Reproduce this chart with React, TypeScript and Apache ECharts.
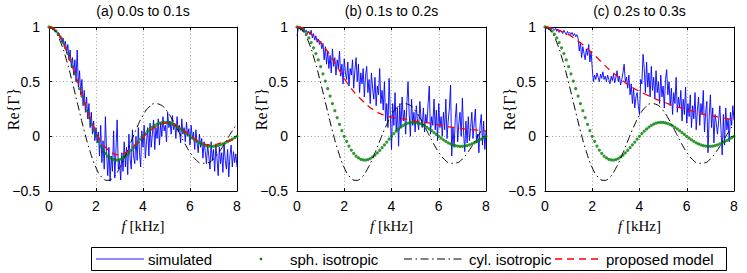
import React, { useEffect, useRef } from "react";
import * as echarts from "echarts";

// ---------- data ----------
const PANEL_TITLES = ["(a) 0.0s to 0.1s", "(b) 0.1s to 0.2s", "(c) 0.2s to 0.3s"];
const LEGEND_LABELS = ["simulated", "sph. isotropic", "cyl. isotropic", "proposed model"];
const Y_NAME = "Re{\u0393}";
const X_MIN = 0, X_MAX = 8, X_STEP = 2;
const Y_MIN = -0.5, Y_MAX = 1, Y_STEP = 0.5;

const SIM_STEP = 0.05; // kHz between simulated samples
const SIM_A = [
  1.00,
  0.99, 0.99, 0.98, 0.99, 0.96, 0.97, 0.94, 0.95, 0.91, 0.92,
  0.86, 0.90, 0.82, 0.87, 0.76, 0.84, 0.70, 0.79, 0.63, 0.72,
  0.56, 0.70, 0.50, 0.79, 0.45, 0.60, 0.38, 0.52, 0.28, 0.42,
  0.22, 0.36, 0.16, 0.30, 0.08, 0.22, 0.02, 0.14, -0.04, 0.08,
  -0.06, 0.04, -0.18, 0.10, -0.24, -0.04, -0.30, 0.18, -0.14, -0.36,
  -0.10, -0.41, -0.18, -0.32, 0.05, -0.38, -0.12, 0.15, -0.30, -0.22,
  -0.40, -0.15, -0.32, -0.05, -0.28, -0.10, -0.35, 0.02, -0.20, -0.30,
  0.06, -0.18, -0.25, 0.00, -0.22, 0.08, -0.15, -0.28, 0.05, -0.10,
  0.10, -0.20, -0.05, 0.08, -0.18, 0.12, -0.10, 0.02, 0.15, -0.12,
  0.08, -0.02, 0.16, -0.08, 0.12, 0.00, 0.18, 0.05, 0.10, -0.05,
  0.22, 0.08, 0.14, 0.02, 0.19, 0.06, 0.12, -0.02, 0.18, 0.04,
  0.10, -0.06, 0.16, 0.02, 0.08, -0.05, 0.13, 0.00, 0.07, -0.08,
  0.10, -0.02, 0.04, -0.12, 0.06, -0.06, -0.15, 0.02, -0.10, -0.02,
  -0.20, -0.05, -0.14, -0.25, -0.08, -0.18, -0.30, -0.05, -0.22, -0.12,
  -0.32, -0.08, -0.20, -0.36, -0.10, -0.25, -0.15, -0.33, -0.06, -0.22,
  -0.30, -0.12, -0.37, -0.18, -0.08, -0.28, -0.14, -0.24, -0.16, -0.28,
];
const SIM_B = [
  0.92,
  0.98, 1.00, 0.97, 0.99, 0.96, 0.99, 0.95, 0.97, 0.94, 0.96,
  0.93, 0.97, 0.90, 0.94, 0.88, 0.92, 0.86, 0.89, 0.84, 0.87,
  0.80, 0.85, 0.70, 0.82, 0.66, 0.78, 0.62, 0.74, 0.58, 0.80,
  0.64, 0.72, 0.56, 0.70, 0.62, 0.78, 0.55, 0.66, 0.48, 0.71,
  0.58, 0.52, 0.68, 0.46, 0.62, 0.56, 0.70, 0.44, 0.60, 0.72,
  0.50, 0.66, 0.40, 0.58, 0.48, 0.62, 0.36, 0.55, 0.64, 0.40,
  0.52, 0.30, 0.58, 0.44, 0.34, 0.54, 0.28, 0.46, 0.38, 0.62,
  0.30, 0.42, 0.24, 0.50, 0.14, 0.30, 0.08, 0.53, 0.20, -0.12,
  0.30, 0.10, 0.40, 0.05, 0.26, -0.09, 0.30, 0.08, 0.36, 0.14,
  0.24, 0.02, 0.30, 0.50, 0.20, 0.00, 0.34, 0.10, 0.22, 0.04,
  0.28, 0.14, 0.06, 0.32, 0.16, 0.08, 0.26, 0.04, 0.20, 0.12,
  0.30, 0.46, 0.02, 0.18, 0.10, 0.34, 0.06, 0.24, -0.04, 0.30,
  0.08, 0.18, 0.00, 0.22, 0.06, 0.34, -0.02, 0.14, 0.26, 0.47,
  -0.18, 0.08, -0.10, 0.16, 0.30, -0.05, 0.12, 0.22, 0.00, 0.35,
  0.04, -0.14, 0.14, -0.06, 0.18, -0.04, 0.08, 0.22, -0.02, 0.12,
  0.25, -0.06, 0.02, -0.15, 0.10, 0.20, -0.08, 0.14, -0.12, 0.05,
];
const SIM_C = [
  0.96,
  0.99, 1.00, 0.98, 0.99, 0.97, 1.00, 0.98, 0.97, 0.99, 0.96,
  0.98, 0.95, 0.97, 0.96, 0.94, 0.97, 0.95, 0.93, 0.96, 0.94,
  0.95, 0.93, 0.95, 0.92, 0.94, 0.91, 0.93, 0.90, 0.78, 0.86,
  0.72, 0.82, 0.76, 0.70, 0.80, 0.74, 0.84, 0.68, 0.78, 0.62,
  0.50, 0.56, 0.52, 0.58, 0.54, 0.50, 0.57, 0.53, 0.59, 0.52,
  0.55, 0.50, 0.56, 0.52, 0.48, 0.55, 0.51, 0.57, 0.49, 0.54,
  0.60, 0.50, 0.55, 0.47, 0.52, 0.58, 0.66, 0.50, 0.54, 0.44,
  0.56, 0.38, 0.48, 0.30, 0.44, 0.26, 0.36, 0.40, 0.28, 0.20,
  0.52, 0.48, 0.75, 0.62, 0.40, 0.68, 0.45, 0.58, 0.36, 0.64,
  0.42, 0.54, 0.34, 0.60, 0.40, 0.50, 0.30, 0.56, 0.36, 0.46,
  0.26, 0.52, 0.61, 0.38, 0.50, 0.28, 0.44, 0.20, 0.40, 0.30,
  0.54, 0.22, 0.36, 0.26, 0.42, 0.14, 0.34, 0.20, 0.45, 0.12,
  0.30, 0.18, 0.38, 0.08, 0.28, 0.16, 0.40, 0.06, 0.24, 0.36,
  0.10, 0.30, 0.20, 0.42, 0.04, 0.22, 0.32, -0.15, 0.18, 0.38,
  0.08, 0.26, -0.06, 0.20, 0.12, 0.02, 0.14, 0.28, 0.06, -0.17,
  0.20, -0.08, 0.26, 0.06, 0.16, -0.05, 0.22, 0.10, 0.28, 0.15,
];

const SPH_STEP = 0.1;
const SPH = [
  1, 0.996, 0.984, 0.963, 0.935, 0.900, 0.858, 0.810, 0.757, 0.699, 0.637,
  0.572, 0.505, 0.436, 0.368, 0.300, 0.234, 0.170, 0.109, 0.052, 0,
  -0.047, -0.089, -0.126, -0.156, -0.180, -0.198, -0.210, -0.216, -0.217, -0.212,
  -0.203, -0.189, -0.172, -0.152, -0.129, -0.104, -0.078, -0.052, -0.026, 0,
  0.024, 0.047, 0.067, 0.085, 0.100, 0.112, 0.121, 0.126, 0.128, 0.127,
  0.123, 0.116, 0.107, 0.095, 0.082, 0.067, 0.051, 0.034, 0.017, 0,
  -0.016, -0.032, -0.046, -0.059, -0.069, -0.078, -0.085, -0.089, -0.091, -0.091,
  -0.089, -0.084, -0.078, -0.070, -0.060, -0.049, -0.038, -0.025, -0.013, 0,
];

const CURVE_STEP = 0.25;
const CYL = [
  1, 0.963, 0.857, 0.693, 0.489, 0.267, 0.050, -0.140, -0.287, -0.375, -0.403,
  -0.373, -0.291, -0.176, -0.044, 0.085, 0.192, 0.267, 0.299, 0.288, 0.237,
  0.152, 0.050, -0.054, -0.146, -0.213, -0.246, -0.243, -0.207, -0.140, -0.056,
  0.033, 0.115,
];
const MODEL_A = [
  1.0, 0.975, 0.90, 0.78, 0.64, 0.48, 0.32, 0.17, 0.04, -0.06, -0.12,
  -0.16, -0.17, -0.15, -0.11, -0.06, -0.01, 0.04, 0.08, 0.11, 0.12,
  0.115, 0.09, 0.05, 0.01, -0.03, -0.06, -0.075, -0.075, -0.065, -0.05,
  -0.035, -0.02,
];
const MODEL_B = [
  1.0, 0.99, 0.95, 0.91, 0.86, 0.79, 0.71, 0.62, 0.53, 0.45, 0.385,
  0.33, 0.28, 0.24, 0.21, 0.19, 0.175, 0.165, 0.16, 0.15, 0.14,
  0.135, 0.125, 0.115, 0.105, 0.095, 0.085, 0.08, 0.07, 0.065, 0.06,
  0.055, 0.05,
];
const MODEL_C = [
  1.0, 0.99, 0.975, 0.955, 0.93, 0.895, 0.855, 0.81, 0.76, 0.71, 0.655,
  0.605, 0.56, 0.515, 0.475, 0.44, 0.41, 0.385, 0.36, 0.335, 0.315,
  0.295, 0.275, 0.26, 0.245, 0.23, 0.215, 0.20, 0.19, 0.18, 0.17,
  0.16, 0.155,
];

const SIMS = [SIM_A, SIM_B, SIM_C];
const MODELS = [MODEL_A, MODEL_B, MODEL_C];

// ---------- layout / style ----------
const GRID_LEFT = [49, 297, 545];
const GRID_W = [188, 189, 189];
const GRID_TOP = 27;
const GRID_H = 164;
const Y_NAME_OFFSET = 36; // px left of axis (centre of rotated name)
const SANS = "'Liberation Sans', Arial, sans-serif";
const SERIF = "'Liberation Serif', 'DejaVu Serif', serif";
const FS = 14;
const LEGEND_FS = 15;
const BLUE = "#0000ff";
const GREEN = "#008000";
const RED = "#ff0000";
const DASH_DOT = [8, 3.5, 1.5, 3.5];
const DASHED = [7, 5];

const toPairs = (arr: number[], step: number) => arr.map((v, k) => [+(k * step).toFixed(3), v]);
const fmtY = (v: number) => (v < 0 ? "\u2212" + String(-v) : String(v));

function buildOption() {
  const grid: any[] = [];
  const xAxis: any[] = [];
  const yAxis: any[] = [];
  const series: any[] = [];
  const graphic: any[] = [];

  for (let i = 0; i < 3; i++) {
    grid.push({
      left: GRID_LEFT[i], top: GRID_TOP, width: GRID_W[i], height: GRID_H,
      containLabel: false, outerBoundsMode: "none",
    });
    const axisLine = { show: true, onZero: false, lineStyle: { color: "#000", width: 1 } };
    const axisTick = { show: true, inside: true, length: 3, lineStyle: { color: "#000", width: 1 } };
    const split = { show: true, lineStyle: { color: "#a0a0a0", width: 1, type: [1, 2.5] } };
    xAxis.push({
      type: "value", gridIndex: i, min: X_MIN, max: X_MAX, interval: X_STEP, position: "bottom",
      axisLine, axisTick, splitLine: split,
      axisLabel: { color: "#000", fontSize: FS, fontFamily: SANS, margin: 8 },
      name: "{i|f}{n| [kHz]}", nameLocation: "middle", nameGap: 27, nameMoveOverlap: false,
      nameTextStyle: {
        rich: {
          i: { fontStyle: "italic", fontFamily: SERIF, fontSize: 15, color: "#000" },
          n: { fontFamily: SERIF, fontSize: 15, color: "#000" },
        },
      },
    });
    xAxis.push({
      type: "value", gridIndex: i, min: X_MIN, max: X_MAX, interval: X_STEP, position: "top",
      axisLine, axisTick, splitLine: { show: false }, axisLabel: { show: false },
    });
    yAxis.push({
      type: "value", gridIndex: i, min: Y_MIN, max: Y_MAX, interval: Y_STEP, position: "left",
      axisLine, axisTick, splitLine: split,
      axisLabel: { color: "#000", fontSize: FS, fontFamily: SANS, margin: 9, formatter: fmtY },
    });
    yAxis.push({
      type: "value", gridIndex: i, min: Y_MIN, max: Y_MAX, interval: Y_STEP, position: "right",
      axisLine, axisTick, splitLine: { show: false }, axisLabel: { show: false },
    });

    const xi = 2 * i, yi = 2 * i;
    series.push({
      name: LEGEND_LABELS[0], type: "line", xAxisIndex: xi, yAxisIndex: yi,
      data: toPairs(SIMS[i], SIM_STEP), symbol: "none", showSymbol: false,
      lineStyle: { color: BLUE, width: 0.9 }, z: 2,
    });
    series.push({
      name: LEGEND_LABELS[1], type: "scatter", xAxisIndex: xi, yAxisIndex: yi,
      data: toPairs(SPH, SPH_STEP), symbol: "circle", symbolSize: 3.2,
      itemStyle: { color: GREEN }, z: 3,
    });
    series.push({
      name: LEGEND_LABELS[2], type: "line", xAxisIndex: xi, yAxisIndex: yi,
      data: toPairs(CYL, CURVE_STEP), symbol: "none", showSymbol: false, smooth: true,
      lineStyle: { color: "#000", width: 1, type: DASH_DOT }, z: 4,
    });
    series.push({
      name: LEGEND_LABELS[3], type: "line", xAxisIndex: xi, yAxisIndex: yi,
      data: toPairs(MODELS[i], CURVE_STEP), symbol: "none", showSymbol: false, smooth: true,
      lineStyle: { color: RED, width: 1.3, type: DASHED }, z: 5,
    });

    graphic.push({
      type: "text", x: GRID_LEFT[i] + GRID_W[i] / 2, y: 11,
      style: {
        text: PANEL_TITLES[i], fill: "#000", fontSize: FS, fontFamily: SANS,
        align: "center", verticalAlign: "middle", textAlign: "center", textVerticalAlign: "middle",
      },
    });
    graphic.push({
      type: "text", x: GRID_LEFT[i] - Y_NAME_OFFSET, y: GRID_TOP + GRID_H / 2, rotation: Math.PI / 2,
      style: {
        text: Y_NAME, fill: "#000", fontSize: 16, fontFamily: SERIF,
        align: "center", verticalAlign: "middle", textAlign: "center", textVerticalAlign: "middle",
      },
    });
  }

  // legend box
  const LY = 259;
  const textStyle = (t: string) => ({
    text: t, fill: "#000", fontSize: LEGEND_FS, fontFamily: SANS,
    align: "left", verticalAlign: "middle", textAlign: "left", textVerticalAlign: "middle",
  });
  graphic.push({
    type: "rect", shape: { x: 91.5, y: 247.5, width: 635, height: 23 },
    style: { fill: "#fff", stroke: "#000", lineWidth: 1 }, z: 10,
  });
  graphic.push({ type: "line", shape: { x1: 96, y1: LY, x2: 144, y2: LY }, style: { stroke: BLUE, lineWidth: 0.9 }, z: 11 });
  graphic.push({ type: "text", x: 148, y: LY, style: textStyle(LEGEND_LABELS[0]), z: 11 });
  graphic.push({ type: "circle", shape: { cx: 261, cy: LY, r: 1.3 }, style: { fill: GREEN }, z: 11 });
  graphic.push({ type: "text", x: 290, y: LY, style: textStyle(LEGEND_LABELS[1]), z: 11 });
  graphic.push({ type: "line", shape: { x1: 404, y1: LY, x2: 463, y2: LY }, style: { stroke: "#000", lineWidth: 1, lineDash: DASH_DOT }, z: 11 });
  graphic.push({ type: "text", x: 469, y: LY, style: textStyle(LEGEND_LABELS[2]), z: 11 });
  graphic.push({ type: "line", shape: { x1: 555, y1: LY, x2: 600, y2: LY }, style: { stroke: RED, lineWidth: 1.3, lineDash: DASHED }, z: 11 });
  graphic.push({ type: "text", x: 606, y: LY, style: textStyle(LEGEND_LABELS[3]), z: 11 });

  return {
    animation: false,
    backgroundColor: "#fff",
    grid, xAxis, yAxis, series, graphic,
  };
}

export default function App() {
  const ref = useRef<HTMLDivElement>(null);
  useEffect(() => {
    if (!ref.current) return;
    const chart = echarts.init(ref.current, undefined, { renderer: "svg" });
    chart.setOption(buildOption() as any);
    return () => chart.dispose();
  }, []);
  return (
    <div
      ref={ref}
      style={{ position: "absolute", left: 0, top: 0, width: 747, height: 273, background: "#fff" }}
    />
  );
}
